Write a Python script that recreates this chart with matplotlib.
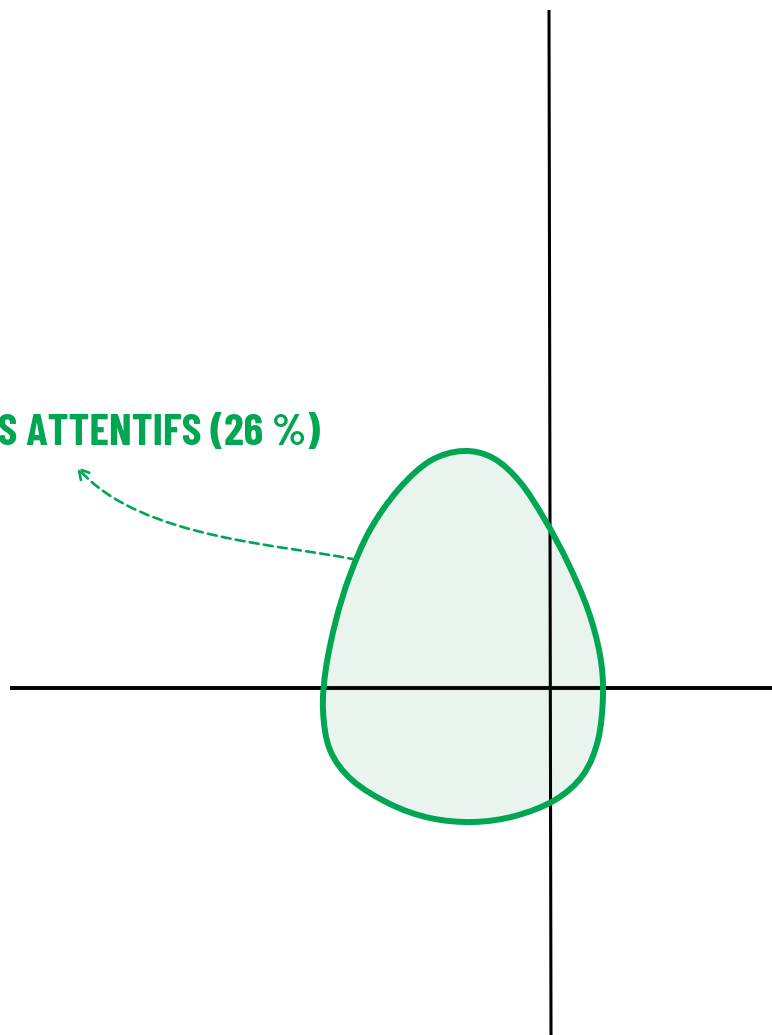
import matplotlib
matplotlib.use("Agg")
import matplotlib.pyplot as plt
import numpy as np
from matplotlib.path import Path
from matplotlib.patches import PathPatch, FancyArrowPatch

# ---- data (chart coordinates, origin at the axes cross) ----
label_text = "ES ATTENTIFS (26\u202f%)"
blob_x = [-87, -57, -30, -5, 18, 38, 50, 53, 48, 33, 5, -35, -77, -120, -160, -198, -220, -227, -224, -214, -200, -180, -152, -120]
blob_y = [237, 230, 206, 168, 125, 78, 33, -7, -52, -87, -112, -128, -134, -130, -116, -92, -62, -22, 20, 68, 113, 158, 198, 227]
arrow_x = [-193, -260, -410, -473]
arrow_y = [128, 143, 148, 221]
label_pos = (-230, 243)

GREEN = "#00A651"
FILL = "#EAF4EE"

fig = plt.figure(figsize=(7.72, 10.35), dpi=100)
ax = fig.add_axes([0, 0, 1, 1])
ax.set_xlim(-550, 222)
ax.set_ylim(-347, 688)
ax.axis("off")

# smooth closed outline through the points (Catmull-Rom as cubic bezier)
P = np.column_stack([blob_x, blob_y]).astype(float)
n = len(P)
verts = [P[0]]
codes = [Path.MOVETO]
for i in range(n):
    p0, p1, p2, p3 = P[i - 1], P[i], P[(i + 1) % n], P[(i + 2) % n]
    verts += [p1 + (p2 - p0) / 6, p2 - (p3 - p1) / 6, p2]
    codes += [Path.CURVE4] * 3
path = Path(verts, codes)

ax.add_patch(PathPatch(path, facecolor=FILL, edgecolor="none", zorder=1))
# axes cross
ax.plot([-540, 222], [0, 0], color="black", lw=2.8, solid_capstyle="butt", zorder=2)
ax.plot([-1, 1], [678, -347], color="black", lw=2.2, solid_capstyle="butt", zorder=2)
ax.add_patch(PathPatch(path, facecolor="none", edgecolor=GREEN, lw=4.3, zorder=3))

# label
ax.text(label_pos[0], label_pos[1], label_text, color=GREEN, fontsize=32,
        fontweight="bold", family=["Barlow Condensed", "DejaVu Sans"],
        ha="right", va="baseline", zorder=4)

apath = Path(np.column_stack([arrow_x, arrow_y]),
             [Path.MOVETO, Path.CURVE4, Path.CURVE4, Path.CURVE4])
arr = FancyArrowPatch(path=ax.transData.transform_path(apath), transform=None,
                      arrowstyle="->,head_length=7,head_width=4", color=GREEN,
                      lw=1.9, linestyle=(0, (3.4, 2.0)), mutation_scale=1, zorder=4)
fig.add_artist(arr)

fig.savefig("out.png", dpi=100)
